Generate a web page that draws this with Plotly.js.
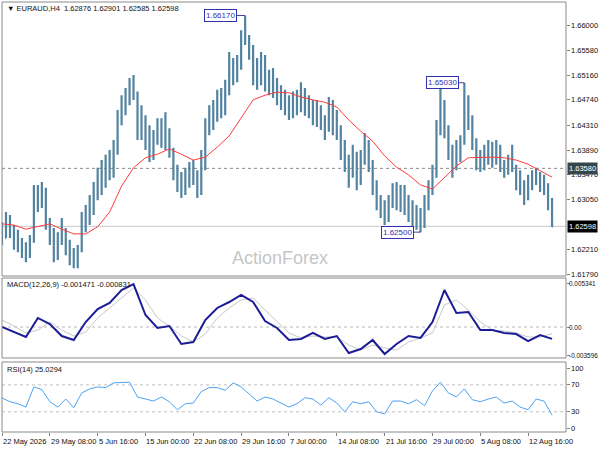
<!DOCTYPE html>
<html>
<head>
<meta charset="utf-8">
<script src="https://cdn.plot.ly/plotly-3.0.1.min.js"></script>
<style>html,body{margin:0;padding:0;background:#fff;}#chart{width:600px;height:450px;}</style>
</head>
<body>
<div id="chart"></div>
<script>
// ---- data (each bar = 8/3 of an H4 bar) ----
const opens = [1.6254,1.6240,1.6274,1.6250,1.6237,1.6225,1.6220,1.6211,1.6237,1.6313,
1.6296,1.6321,1.6262,1.6237,1.6220,1.6240,1.6254,1.6223,1.6206,1.6199,
1.6220,1.6267,1.6279,1.6296,1.6321,1.6342,1.6330,1.6369,1.6355,1.6389,
1.6440,1.6465,1.6474,1.6491,1.6482,1.6423,1.6443,1.6406,1.6389,1.6406,
1.6426,1.6414,1.6423,1.6389,1.6355,1.6338,1.6321,1.6347,1.6355,1.6338,
1.6321,1.6364,1.6431,1.6448,1.6457,1.6474,1.6460,1.6491,1.6533,1.6516,
1.6538,1.6575,1.6579,1.6558,1.6516,1.6525,1.6538,1.6508,1.6499,1.6494,
1.6482,1.6474,1.6465,1.6457,1.6474,1.6470,1.6488,1.6460,1.6465,1.6448,
1.6457,1.6437,1.6423,1.6465,1.6431,1.6423,1.6389,1.6372,1.6347,1.6381,
1.6338,1.6372,1.6398,1.6364,1.6330,1.6304,1.6296,1.6279,1.6304,1.6321,
1.6313,1.6318,1.6296,1.6284,1.6271,1.6284,1.6262,1.6296,1.6321,1.6347,
1.6423,1.6457,1.6426,1.6389,1.6364,1.6389,1.6406,1.6474,1.6440,1.6406,
1.6372,1.6369,1.6381,1.6389,1.6376,1.6389,1.6364,1.6359,1.6369,1.6359,
1.6335,1.6330,1.6313,1.6330,1.6342,1.6347,1.6335,1.6330,1.6304];
const highs = [1.6267,1.6284,1.6279,1.6262,1.6254,1.6240,1.6233,1.6245,1.6330,1.6330,
1.6335,1.6325,1.6274,1.6257,1.6250,1.6274,1.6257,1.6237,1.6223,1.6228,
1.6284,1.6296,1.6313,1.6335,1.6359,1.6372,1.6381,1.6389,1.6406,1.6457,
1.6482,1.6494,1.6511,1.6516,1.6488,1.6465,1.6448,1.6431,1.6423,1.6443,
1.6443,1.6453,1.6426,1.6393,1.6364,1.6352,1.6359,1.6369,1.6372,1.6355,
1.6389,1.6443,1.6465,1.6474,1.6491,1.6494,1.6508,1.6555,1.6545,1.6550,
1.6592,1.6617,1.6584,1.6567,1.6545,1.6555,1.6550,1.6525,1.6528,1.6511,
1.6499,1.6491,1.6482,1.6488,1.6491,1.6504,1.6494,1.6482,1.6474,1.6474,
1.6465,1.6448,1.6479,1.6474,1.6457,1.6431,1.6406,1.6381,1.6398,1.6386,
1.6389,1.6418,1.6406,1.6372,1.6338,1.6313,1.6304,1.6313,1.6333,1.6335,
1.6330,1.6330,1.6313,1.6304,1.6296,1.6291,1.6313,1.6338,1.6364,1.6440,
1.6494,1.6474,1.6431,1.6398,1.6406,1.6414,1.6503,1.6482,1.6448,1.6409,
1.6389,1.6398,1.6406,1.6403,1.6406,1.6398,1.6372,1.6381,1.6398,1.6364,
1.6355,1.6338,1.6347,1.6355,1.6359,1.6352,1.6347,1.6333,1.6308];
const lows = [1.6228,1.6240,1.6240,1.6220,1.6216,1.6206,1.6199,1.6206,1.6232,1.6284,
1.6291,1.6254,1.6228,1.6199,1.6203,1.6228,1.6211,1.6194,1.6189,1.6189,
1.6216,1.6250,1.6262,1.6279,1.6304,1.6313,1.6325,1.6338,1.6342,1.6381,
1.6431,1.6448,1.6465,1.6474,1.6406,1.6406,1.6389,1.6369,1.6372,1.6398,
1.6393,1.6389,1.6376,1.6338,1.6318,1.6308,1.6313,1.6325,1.6330,1.6308,
1.6313,1.6355,1.6414,1.6423,1.6437,1.6443,1.6448,1.6482,1.6499,1.6504,
1.6525,1.6567,1.6542,1.6499,1.6491,1.6499,1.6488,1.6482,1.6477,1.6465,
1.6457,1.6448,1.6440,1.6443,1.6448,1.6453,1.6447,1.6443,1.6431,1.6428,
1.6423,1.6406,1.6420,1.6414,1.6406,1.6372,1.6352,1.6325,1.6342,1.6321,
1.6330,1.6364,1.6352,1.6313,1.6287,1.6274,1.6262,1.6267,1.6291,1.6287,
1.6284,1.6279,1.6267,1.6257,1.6254,1.6250,1.6257,1.6287,1.6313,1.6342,
1.6414,1.6409,1.6372,1.6342,1.6355,1.6369,1.6398,1.6423,1.6389,1.6355,
1.6352,1.6355,1.6364,1.6359,1.6364,1.6352,1.6342,1.6347,1.6352,1.6321,
1.6313,1.6296,1.6304,1.6321,1.6330,1.6318,1.6313,1.6287,1.62585];
const closes = [1.6240,1.6274,1.6250,1.6237,1.6225,1.6220,1.6211,1.6237,1.6313,1.6296,
1.6321,1.6262,1.6237,1.6220,1.6240,1.6254,1.6223,1.6206,1.6199,1.6220,
1.6267,1.6279,1.6296,1.6321,1.6342,1.6330,1.6369,1.6355,1.6389,1.6440,
1.6465,1.6474,1.6491,1.6482,1.6423,1.6443,1.6406,1.6389,1.6406,1.6426,
1.6414,1.6423,1.6389,1.6355,1.6338,1.6321,1.6347,1.6355,1.6338,1.6321,
1.6364,1.6431,1.6448,1.6457,1.6474,1.6460,1.6491,1.6533,1.6516,1.6538,
1.6575,1.6579,1.6558,1.6516,1.6525,1.6538,1.6508,1.6499,1.6494,1.6482,
1.6474,1.6465,1.6457,1.6474,1.6470,1.6488,1.6460,1.6465,1.6448,1.6457,
1.6437,1.6423,1.6465,1.6431,1.6423,1.6389,1.6372,1.6347,1.6381,1.6338,
1.6372,1.6398,1.6364,1.6330,1.6304,1.6296,1.6279,1.6304,1.6321,1.6313,
1.6318,1.6296,1.6284,1.6271,1.6284,1.6262,1.6296,1.6321,1.6347,1.6423,
1.6457,1.6426,1.6389,1.6364,1.6389,1.6406,1.6474,1.6440,1.6406,1.6372,
1.6369,1.6381,1.6389,1.6376,1.6389,1.6364,1.6359,1.6369,1.6359,1.6335,
1.6330,1.6313,1.6330,1.6342,1.6347,1.6335,1.6330,1.6304,1.62598];

// moving average, MACD and signal: one value every 3 bars
const maVals = [1.6264,1.6262,1.6255,1.6259,1.6264,1.6255,1.6247,1.6247,1.6259,1.6284,
1.6328,1.6359,1.6376,1.6382,1.6391,1.6382,1.6372,1.6377,1.6394,1.6413,
1.6443,1.6474,1.6482,1.6487,1.6486,1.6479,1.6474,1.6470,1.6462,1.6440,
1.6421,1.6404,1.6379,1.6360,1.6347,1.6330,1.6323,1.6343,1.6362,1.6376,
1.6377,1.6377,1.6376,1.6372,1.6365,1.6354,1.6343];
const macdVals = [0,-0.00062,-0.00124,0.00112,0.00037,-0.00112,-0.00161,0.00062,0.00223,0.00298,
0.00459,0.00533,0.00149,-0.00012,0.00012,-0.00211,-0.00186,0.00087,0.00236,0.00310,
0.00397,0.00310,0.00074,-0.00012,-0.00161,-0.00149,-0.00074,-0.00149,-0.00112,-0.00322,
-0.00273,-0.00161,-0.00335,-0.00211,-0.00112,-0.00136,0.00062,0.00459,0.00174,0.00186,
-0.00037,-0.00037,-0.00074,-0.00087,-0.00174,-0.00099,-0.00147];
const signalVals = [0.00087,0.00012,-0.00074,-0.00037,0.00062,-0.00037,-0.00112,-0.00062,0.00112,0.00236,
0.00360,0.00484,0.00335,0.00112,0.00012,-0.00112,-0.00186,-0.00087,0.00112,0.00236,
0.00335,0.00360,0.00211,0.00062,-0.00074,-0.00136,-0.00112,-0.00124,-0.00124,-0.00223,
-0.00285,-0.00223,-0.00260,-0.00285,-0.00186,-0.00136,-0.00074,0.00273,0.00335,0.00211,
0.00062,-0.00037,-0.00050,-0.00074,-0.00124,-0.00124,-0.00083];
// RSI: one value every 2 bars
const rsiVals = [50.7,45,42,37,67,63,45,37,49,36,
58,64,67,66,73,73,74,52,49,46,
52,45,33,42,43,60,66,66,62,73,
67,57,46,52,49,43,37,42,51,49,
40,51,43,30,45,42,45,30,27,46,
46,42,48,39,61,74,58,52,64,48,
45,49,52,43,46,37,33,49,46,25.03];

const xTickIdx = [0,12,24,36,48,60,72,84,96,108,120,132];
const xTickText = ['22 May 2026','29 May 08:00','5 Jun 16:00','15 Jun 00:00','22 Jun 08:00','29 Jun 16:00','7 Jul 00:00','14 Jul 08:00','21 Jul 16:00','29 Jul 00:00','5 Aug 08:00','12 Aug 16:00'];
const priceTickVals = [1.6600,1.6558,1.6516,1.6474,1.6431,1.6389,1.6347,1.6305,1.6221,1.6179];
const priceTickText = ['1.66000','1.65580','1.65160','1.64740','1.64310','1.63890','1.63470','1.63050','1.62210','1.61790'];
const macdTickVals = [0.005341,0,-0.003596];
const macdTickText = ['0.005341','0.00','-0.003596'];
const rsiTickVals = [95,70,30,5];
const rsiTickText = ['100','70','30','0'];

const headerText = '▼ EURAUD,H4  1.62876 1.62901 1.62585 1.62598';
const macdText = 'MACD(12,26,9) -0.001471 -0.000831';
const rsiText = 'RSI(14) 25.0294';
const pivotHigh = {idx:61, price:1.6617, label:'1.66170'};
const pivotHigh2 = {idx:116, price:1.6503, label:'1.65030'};
const pivotLow = {idx:105, price:1.6250, label:'1.62500'};
const levelLine = 1.6358, levelLabel = '1.63580';
const lastPrice = 1.62598, lastLabel = '1.62598';
const rsiLevels = [70,30];

// ---- build ----
const barIdx = closes.map((_, i) => i);
const idx3 = maVals.map((_, i) => i * 3);
const idx2 = rsiVals.map((_, i) => i * 2);

const FONT = 'Liberation Sans, Arial, sans-serif';
const barColor = '#5283a0';
const boxBlue = '#3030b0';

const traces = [
  {type:'ohlc', x:barIdx, open:opens, high:highs, low:lows, close:closes,
   xaxis:'x', yaxis:'y', tickwidth:0.2, hoverinfo:'skip',
   increasing:{line:{color:barColor, width:2.2}}, decreasing:{line:{color:barColor, width:2.2}}},
  {type:'scatter', mode:'lines', x:idx3, y:maVals, xaxis:'x', yaxis:'y',
   line:{color:'#ff3b3b', width:1}, hoverinfo:'skip'},
  {type:'scatter', mode:'lines', x:idx3, y:signalVals, xaxis:'x', yaxis:'y2',
   line:{color:'#c8c8c8', width:1}, hoverinfo:'skip'},
  {type:'scatter', mode:'lines', x:idx3, y:macdVals, xaxis:'x', yaxis:'y2',
   line:{color:'#1c1c96', width:2}, hoverinfo:'skip'},
  {type:'scatter', mode:'lines', x:idx2, y:rsiVals, xaxis:'x', yaxis:'y3',
   line:{color:'#4da3f5', width:1}, hoverinfo:'skip'}
];

const mainDom = [0.3628, 1], macdDom = [0.1721, 0.3581], rsiDom = [0, 0.1628];
const axCommon = {side:'right', anchor:'x', showgrid:false, zeroline:false, ticks:'outside',
  ticklen:3, tickcolor:'#808080', showticklabels:false, showline:false, fixedrange:true};

const shapes = [
  {type:'rect', xref:'paper', yref:'paper', x0:0, x1:1, y0:mainDom[0], y1:mainDom[1], line:{color:'#8a8a8a', width:1}},
  {type:'rect', xref:'paper', yref:'paper', x0:0, x1:1, y0:macdDom[0], y1:macdDom[1], line:{color:'#8a8a8a', width:1}},
  {type:'rect', xref:'paper', yref:'paper', x0:0, x1:1, y0:rsiDom[0], y1:rsiDom[1], line:{color:'#8a8a8a', width:1}},
  {type:'line', xref:'paper', yref:'y', x0:0, x1:1, y0:levelLine, y1:levelLine, line:{color:'#8c8c8c', width:1, dash:'dot'}, layer:'below'},
  {type:'line', xref:'paper', yref:'y', x0:0, x1:1, y0:lastPrice, y1:lastPrice, line:{color:'#c8c8c8', width:1}, layer:'below'},
  {type:'line', xref:'paper', yref:'y2', x0:0, x1:1, y0:0, y1:0, line:{color:'#b8b8b8', width:1, dash:'dot'}, layer:'below'}
].concat(rsiLevels.map(v => ({type:'line', xref:'paper', yref:'y3', x0:0, x1:1, y0:v, y1:v, line:{color:'#c0c0c0', width:1, dash:'dot'}, layer:'below'})));

function pivotAnn(p, ax) {
  return {x:p.idx, y:p.price, xref:'x', yref:'y', text:p.label, showarrow:true, arrowhead:0,
    arrowwidth:1, arrowcolor:'#40409a', ax:ax, ay:0, font:{family:FONT, size:8, color:boxBlue},
    bgcolor:'#ffffff', bordercolor:boxBlue, borderwidth:1, borderpad:1};
}
function sideLabel(v, txt, bg) {
  return {x:1, y:v, xref:'paper', yref:'y', xanchor:'left', yanchor:'middle', text:txt, showarrow:false,
    font:{family:FONT, size:7.5, color:'#ffffff'}, bgcolor:bg, borderpad:1, xshift:1};
}
function axisLabels(vals, texts, yref, size, shift) {
  return vals.map((v, i) => ({x:1, y:v, xref:'paper', yref:yref, xanchor:'left', yanchor:'middle',
    text:texts[i], showarrow:false, xshift:shift, font:{family:FONT, size:size, color:'#111'}}));
}

let annotations = [
  {x:0.006, y:0.986, xref:'paper', yref:'paper', xanchor:'left', yanchor:'middle', text:headerText, showarrow:false, font:{family:FONT, size:7.5, color:'#111'}},
  {x:0.006, y:0.342, xref:'paper', yref:'paper', xanchor:'left', yanchor:'middle', text:macdText, showarrow:false, font:{family:FONT, size:7.5, color:'#111'}},
  {x:0.006, y:0.146, xref:'paper', yref:'paper', xanchor:'left', yanchor:'middle', text:rsiText, showarrow:false, font:{family:FONT, size:7.5, color:'#111'}},
  {x:0.493, y:0.405, xref:'paper', yref:'paper', xanchor:'center', yanchor:'middle', text:'ActionForex', showarrow:false, font:{family:FONT, size:18, color:'#c6c6c6'}},
  pivotAnn(pivotHigh, -25), pivotAnn(pivotHigh2, -22), pivotAnn(pivotLow, -23)
];
annotations = annotations
  .concat(axisLabels(priceTickVals, priceTickText, 'y', 7.5, 3))
  .concat(axisLabels(macdTickVals, macdTickText, 'y2', 6.4, 1))
  .concat(axisLabels(rsiTickVals, rsiTickText, 'y3', 7.5, 3))
  .concat([sideLabel(levelLine, levelLabel, '#34474b'), sideLabel(lastPrice, lastLabel, '#000000')])
  .concat(xTickIdx.map((k, i) => ({x:k, y:0, xref:'x', yref:'paper', xanchor:'left', yanchor:'top',
    text:xTickText[i], showarrow:false, yshift:-3, xshift:-1, font:{family:FONT, size:7.5, color:'#111'}})));

const layout = {
  width:600, height:450, margin:{l:2, r:34, t:2, b:18},
  paper_bgcolor:'#ffffff', plot_bgcolor:'#ffffff', showlegend:false, dragmode:false,
  xaxis:{domain:[0,1], anchor:'y3', range:[0, 141.5], rangeslider:{visible:false},
    tickvals:xTickIdx, showticklabels:false, ticks:'outside', ticklen:3, tickcolor:'#808080',
    showgrid:false, zeroline:false, showline:false, fixedrange:true},
  yaxis:Object.assign({}, axCommon, {domain:mainDom, range:[1.61757, 1.66398], tickvals:priceTickVals}),
  yaxis2:Object.assign({}, axCommon, {domain:macdDom, range:[-0.003844, 0.006076], tickvals:macdTickVals}),
  yaxis3:Object.assign({}, axCommon, {domain:rsiDom, range:[0, 104], tickvals:rsiTickVals}),
  shapes:shapes, annotations:annotations
};

Plotly.newPlot('chart', traces, layout, {staticPlot:true, displayModeBar:false});
</script>
</body>
</html>
